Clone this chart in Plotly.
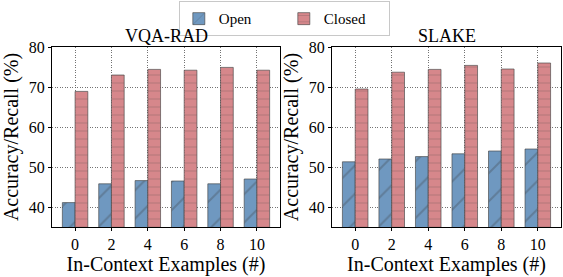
import plotly.graph_objects as go

categories = ["0", "2", "4", "6", "8", "10"]
vqa_open = [41.1, 45.8, 46.6, 46.5, 45.8, 47.0]
vqa_closed = [68.9, 73.0, 74.4, 74.2, 74.9, 74.2]
slake_open = [51.3, 52.0, 52.6, 53.3, 54.0, 54.5]
slake_closed = [69.5, 73.7, 74.4, 75.4, 74.5, 76.0]
y_ticks = [40, 50, 60, 70, 80]

FONT = "Liberation Serif"
OPEN_C = "#6f98c0"
CLOSED_C = "#d6878b"
EDGE = "rgba(70,70,70,0.65)"

fig = go.Figure()
xpos = list(range(len(categories)))

def add(vals, name, color, shape, xa, ya, show):
    fig.add_trace(go.Bar(
        x=xpos, y=vals, name=name, xaxis=xa, yaxis=ya, showlegend=show,
        legendgroup=name, base=0,
        marker=dict(color=color, line=dict(color=EDGE, width=1),
                    pattern=dict(shape=shape, fgcolor="rgba(60,60,60,0.6)",
                                 size=20 if shape == "/" else 8, solidity=0.1,
                                 fillmode="overlay")),
    ))

add(vqa_open, "Open", OPEN_C, "/", "x", "y", True)
add(vqa_closed, "Closed", CLOSED_C, "-", "x", "y", True)
add(slake_open, "Open", OPEN_C, "/", "x2", "y2", False)
add(slake_closed, "Closed", CLOSED_C, "-", "x2", "y2", False)

ydom = [1 - 227 / 277, 1 - 47 / 277]
axis_common = dict(showline=True, linecolor="black", linewidth=1, mirror=True,
                   showgrid=True, gridcolor="rgba(90,90,90,0.85)", griddash="1px,1.5px",
                   gridwidth=1, ticks="outside", ticklen=3, tickcolor="black",
                   tickfont=dict(family=FONT, size=16, color="black"), zeroline=False,
                   automargin=False)

xcommon = dict(axis_common, tickmode="array", tickvals=xpos, ticktext=categories,
               range=[-0.635, 5.635],
               title=dict(text="In-Context Examples (#)", font=dict(family=FONT, size=20, color="black"), standoff=2))
ycommon = dict(axis_common, range=[35, 80], tickmode="array", tickvals=y_ticks,
               title=dict(text="Accuracy/Recall (%)", font=dict(family=FONT, size=20, color="black"), standoff=4))

fig.update_layout(
    width=563, height=277,
    margin=dict(l=0, r=0, t=0, b=0, autoexpand=False),
    paper_bgcolor="white", plot_bgcolor="white",
    barmode="group", bargap=0.3, bargroupgap=0,
    xaxis=dict(xcommon, domain=[52 / 563, 280 / 563], anchor="y"),
    yaxis=dict(ycommon, domain=ydom, anchor="x"),
    xaxis2=dict(xcommon, domain=[332 / 563, 561 / 563], anchor="y2"),
    yaxis2=dict(ycommon, domain=ydom, anchor="x2"),
    legend=dict(orientation="h", x=0.505, y=0.995, xanchor="center", yanchor="top",
                font=dict(family=FONT, size=15, color="black"),
                bordercolor="rgba(200,200,200,1)", borderwidth=1, bgcolor="white",
                itemwidth=30, entrywidth=60, tracegroupgap=0),
    annotations=[
        dict(text="VQA-RAD", x=(52 + 280) / 2 / 563, y=1 - 47 / 277, xref="paper", yref="paper",
             xanchor="center", yanchor="bottom", showarrow=False, yshift=-1,
             font=dict(family=FONT, size=18, color="black")),
        dict(text="SLAKE", x=(332 + 561) / 2 / 563, y=1 - 47 / 277, xref="paper", yref="paper",
             xanchor="center", yanchor="bottom", showarrow=False, yshift=-1,
             font=dict(family=FONT, size=18, color="black")),
    ],
)

fig.write_html("out.html", config={"displayModeBar": False},
               post_script="document.body.style.margin='0';")
